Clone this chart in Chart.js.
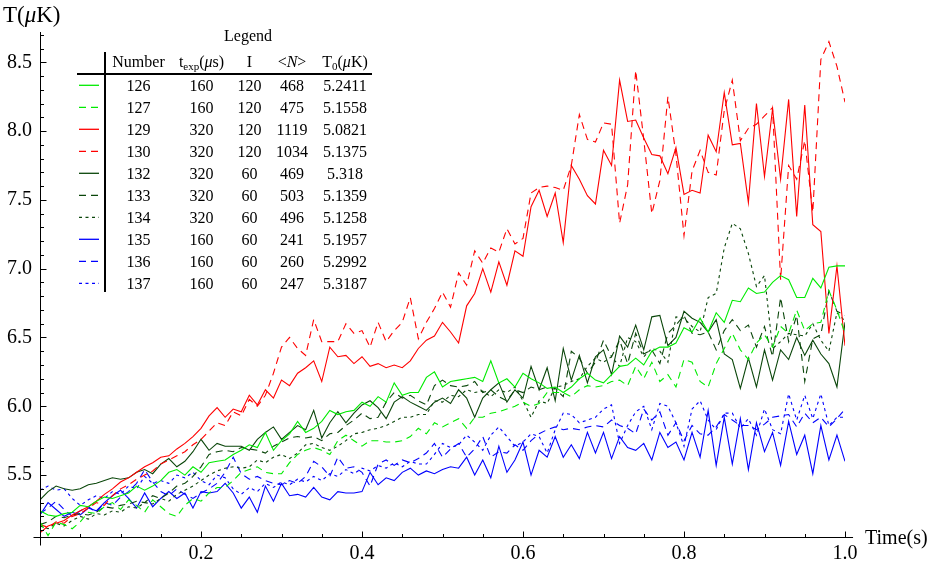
<!DOCTYPE html>
<html>
<head>
<meta charset="utf-8">
<script src="https://cdn.jsdelivr.net/npm/chart.js@4.4.0/dist/chart.umd.min.js"></script>
<style>
  html, body { margin: 0; padding: 0; background: #ffffff; }
  #wrap { width: 932px; height: 565px; }
  canvas { display: block; }
</style>
</head>
<body>
<div id="wrap"><canvas id="chart" width="932" height="565"></canvas></div>
<script>
// Sampling times (s)
const TIMES = [0.00,0.01,0.02,0.03,0.04,0.05,0.06,0.07,0.08,0.09,
  0.10,0.11,0.12,0.13,0.14,0.15,0.16,0.17,0.18,0.19,
  0.20,0.21,0.22,0.23,0.24,0.25,0.26,0.27,0.28,0.29,
  0.30,0.31,0.32,0.33,0.34,0.35,0.36,0.37,0.38,0.39,
  0.40,0.41,0.42,0.43,0.44,0.45,0.46,0.47,0.48,0.49,
  0.50,0.51,0.52,0.53,0.54,0.55,0.56,0.57,0.58,0.59,
  0.60,0.61,0.62,0.63,0.64,0.65,0.66,0.67,0.68,0.69,
  0.70,0.71,0.72,0.73,0.74,0.75,0.76,0.77,0.78,0.79,
  0.80,0.81,0.82,0.83,0.84,0.85,0.86,0.87,0.88,0.89,
  0.90,0.91,0.92,0.93,0.94,0.95,0.96,0.97,0.98,0.99,1.00];

// Temperature T (µK) for each run
const RUN_126 = [5.24,5.21,5.20,5.22,5.23,5.28,5.27,5.31,5.34,5.33,
  5.35,5.37,5.42,5.39,5.42,5.46,5.52,5.54,5.50,5.56,
  5.52,5.59,5.60,5.61,5.65,5.68,5.72,5.70,5.81,5.68,
  5.75,5.80,5.89,5.81,5.84,5.89,5.97,5.94,5.96,5.97,
  6.03,6.00,6.07,6.03,6.17,6.08,6.10,6.10,6.21,6.25,
  6.14,6.18,6.19,6.20,6.21,6.18,6.33,6.17,6.20,6.14,
  6.24,6.20,6.17,6.13,6.14,6.10,6.14,6.20,6.24,6.19,
  6.17,6.23,6.29,6.30,6.35,6.30,6.40,6.43,6.43,6.46,
  6.57,6.54,6.64,6.54,6.68,6.61,6.77,6.76,6.86,6.82,
  6.83,6.90,6.95,6.92,6.79,6.79,6.93,6.86,7.01,7.02,7.02];

const RUN_127 = [5.16,5.06,5.16,5.14,5.11,5.16,5.23,5.22,5.27,5.30,
  5.25,5.32,5.28,5.23,5.32,5.27,5.22,5.20,5.28,5.33,
  5.31,5.37,5.41,5.41,5.46,5.52,5.54,5.56,5.52,5.51,
  5.51,5.59,5.65,5.68,5.70,5.68,5.65,5.75,5.79,5.75,
  5.71,5.75,5.75,5.74,5.74,5.75,5.78,5.84,5.80,5.88,
  5.85,5.88,5.91,5.84,5.92,5.92,5.95,5.96,5.98,6.00,
  6.03,6.00,6.02,6.10,6.10,6.10,6.07,6.12,6.15,6.14,
  6.15,6.18,6.19,6.15,6.29,6.20,6.32,6.18,6.23,6.14,
  6.34,6.32,6.18,6.14,6.31,6.42,6.53,6.41,6.34,6.46,
  6.52,6.43,6.58,6.53,6.70,6.55,6.60,6.61,6.84,6.70,6.53];

const RUN_129 = [5.08,5.13,5.15,5.17,5.21,5.24,5.27,5.31,5.36,5.40,
  5.45,5.48,5.52,5.56,5.59,5.63,5.64,5.69,5.73,5.78,
  5.84,5.93,5.99,5.92,5.98,5.96,6.08,6.01,6.12,6.06,
  6.19,6.15,6.24,6.28,6.33,6.18,6.43,6.36,6.37,6.31,
  6.36,6.29,6.31,6.28,6.30,6.28,6.33,6.42,6.48,6.51,
  6.61,6.54,6.46,6.73,6.82,7.00,6.83,7.05,6.88,7.13,
  7.09,7.45,7.57,7.38,7.55,7.19,7.75,7.65,7.53,7.47,
  7.86,7.75,8.37,8.07,8.08,7.95,7.83,7.82,7.69,7.88,
  7.54,7.57,7.55,7.97,7.85,8.28,7.90,7.91,7.48,8.20,
  7.67,8.16,7.65,8.23,7.38,8.19,7.32,7.27,6.53,7.02,6.44];

const RUN_130 = [5.14,5.12,5.16,5.15,5.20,5.22,5.26,5.30,5.28,5.35,
  5.40,5.43,5.47,5.50,5.53,5.58,5.61,5.64,5.67,5.72,
  5.76,5.82,5.88,5.86,5.96,5.93,6.05,6.00,6.08,6.24,
  6.43,6.50,6.42,6.37,6.63,6.47,6.47,6.47,6.60,6.53,
  6.55,6.43,6.61,6.47,6.55,6.61,6.79,6.49,6.61,6.71,
  6.83,6.72,6.97,6.88,7.13,7.04,7.15,7.12,7.29,7.18,
  7.22,7.55,7.59,7.60,7.59,7.57,7.75,8.12,7.94,7.92,
  8.06,8.05,7.33,7.61,8.44,7.94,7.40,7.64,8.25,7.83,
  7.24,7.71,7.86,7.70,7.68,8.15,8.37,7.93,8.02,8.05,
  8.11,8.17,6.92,7.75,7.65,7.93,7.41,8.52,8.65,8.47,8.21];

const RUN_132 = [5.32,5.38,5.42,5.40,5.39,5.40,5.43,5.44,5.46,5.48,
  5.47,5.48,5.52,5.54,5.51,5.58,5.62,5.56,5.60,5.67,
  5.76,5.68,5.73,5.71,5.71,5.71,5.68,5.76,5.81,5.85,
  5.76,5.81,5.86,5.83,5.97,5.77,5.88,5.96,5.88,5.95,
  6.01,6.04,5.99,5.91,6.03,6.07,6.03,6.00,5.97,6.03,
  6.06,6.02,6.12,6.06,5.92,6.06,6.12,6.17,6.03,6.12,
  6.06,6.29,6.12,6.28,6.04,6.42,6.19,6.37,6.17,6.36,
  6.41,6.23,6.51,6.43,6.59,6.41,6.65,6.66,6.44,6.50,
  6.69,6.64,6.61,6.54,6.63,6.38,6.34,6.13,6.35,6.14,
  6.41,6.19,6.41,6.34,6.50,6.37,6.48,6.38,6.31,6.14,6.61];

const RUN_133 = [5.14,5.16,5.20,5.19,5.21,5.22,5.21,5.23,5.27,5.26,
  5.28,5.29,5.31,5.30,5.35,5.33,5.37,5.42,5.44,5.49,
  5.56,5.65,5.67,5.68,5.67,5.70,5.69,5.68,5.66,5.71,
  5.74,5.77,5.78,5.77,5.78,5.75,5.80,5.81,5.86,5.90,
  5.95,5.91,5.92,6.03,6.10,6.06,6.08,6.04,6.01,6.15,
  6.19,6.15,6.14,6.15,6.18,6.10,6.12,6.07,6.04,6.12,
  6.10,6.14,6.12,6.14,6.13,6.07,6.40,6.35,6.24,6.32,
  6.48,6.36,6.48,6.31,6.53,6.38,6.41,6.31,6.53,6.59,
  6.66,6.53,6.52,6.54,6.41,6.55,6.63,6.55,6.59,6.43,
  6.58,6.36,6.79,6.47,6.66,6.18,6.49,6.52,6.84,6.69,6.66];

const RUN_134 = [5.13,5.11,5.15,5.13,5.17,5.20,5.18,5.22,5.21,5.24,
  5.23,5.27,5.26,5.30,5.29,5.33,5.31,5.36,5.39,5.42,
  5.46,5.50,5.53,5.55,5.56,5.55,5.56,5.61,5.59,5.63,
  5.65,5.62,5.66,5.72,5.73,5.70,5.68,5.71,5.75,5.80,
  5.81,5.83,5.84,5.86,5.89,5.92,5.92,5.94,5.94,6.04,
  6.03,6.08,6.07,6.12,6.10,6.11,6.07,6.12,6.10,6.14,
  6.04,5.92,6.04,6.02,6.14,6.15,6.18,6.20,6.29,6.35,
  6.32,6.36,6.29,6.50,6.47,6.36,6.42,6.40,6.32,6.65,
  6.64,6.58,6.54,6.79,6.82,7.15,7.33,7.29,7.11,6.87,
  6.95,6.42,6.47,6.53,6.52,6.51,6.60,6.48,6.40,6.68,6.62];

const RUN_135 = [5.21,5.30,5.25,5.20,5.23,5.21,5.26,5.24,5.30,5.35,
  5.39,5.33,5.26,5.37,5.27,5.33,5.38,5.33,5.37,5.26,
  5.38,5.37,5.38,5.44,5.37,5.26,5.34,5.23,5.42,5.31,
  5.44,5.35,5.36,5.34,5.41,5.34,5.32,5.38,5.37,5.37,
  5.38,5.52,5.43,5.48,5.46,5.52,5.55,5.50,5.53,5.51,
  5.54,5.56,5.55,5.63,5.50,5.61,5.48,5.71,5.52,5.61,
  5.74,5.50,5.68,5.63,5.78,5.63,5.72,5.62,5.81,5.66,
  5.81,5.62,5.78,5.70,5.68,5.73,5.61,5.81,5.70,5.74,
  5.61,5.81,5.63,5.97,5.57,5.92,5.58,5.91,5.54,5.88,
  5.67,5.81,5.57,5.89,5.65,5.79,5.51,5.86,5.61,5.79,5.60];

const RUN_136 = [5.22,5.26,5.31,5.25,5.20,5.24,5.27,5.23,5.30,5.28,
  5.34,5.38,5.44,5.54,5.45,5.38,5.35,5.40,5.36,5.33,
  5.37,5.40,5.44,5.52,5.63,5.51,5.47,5.49,5.46,5.44,
  5.43,5.46,5.44,5.49,5.60,5.56,5.49,5.63,5.55,5.56,
  5.52,5.42,5.58,5.61,5.57,5.61,5.59,5.62,5.66,5.73,
  5.63,5.69,5.73,5.63,5.69,5.78,5.63,5.67,5.66,5.72,
  5.68,5.75,5.80,5.83,5.85,5.83,5.84,5.83,5.85,5.86,
  5.85,5.90,5.86,5.84,5.80,5.98,5.90,5.96,5.79,5.88,
  5.75,5.86,5.80,5.79,5.85,5.94,5.90,5.86,5.86,5.83,
  5.87,5.92,5.93,5.94,5.85,5.95,5.88,5.92,5.85,5.91,5.98];

const RUN_137 = [5.39,5.42,5.39,5.40,5.33,5.28,5.32,5.35,5.33,5.38,
  5.36,5.42,5.40,5.49,5.44,5.46,5.44,5.50,5.48,5.52,
  5.46,5.43,5.50,5.48,5.40,5.36,5.41,5.38,5.44,5.41,
  5.45,5.43,5.47,5.45,5.49,5.46,5.51,5.49,5.54,5.51,
  5.55,5.53,5.57,5.55,5.59,5.56,5.60,5.58,5.58,5.65,
  5.73,5.70,5.72,5.79,5.74,5.68,5.79,5.85,5.78,5.71,
  5.74,5.80,5.78,5.66,5.83,5.95,5.94,5.88,5.90,5.92,
  5.98,6.01,5.73,5.86,5.96,6.00,5.83,6.02,6.00,5.88,
  5.71,5.98,6.04,5.90,5.83,5.95,5.95,5.84,5.91,5.79,
  5.98,5.83,5.80,6.09,5.90,6.08,5.91,6.09,5.86,5.92,5.92];

// Legend table columns
const RUN_NUMBER = ['126','127','129','130','132','133','134','135','136','137'];
const RUN_TEXP   = ['160','160','320','320','320','320','320','160','160','160'];
const RUN_I      = ['120','120','120','120','60','60','60','60','60','60'];
const RUN_N      = ['468','475','1119','1034','469','503','496','241','260','247'];
const RUN_T0     = ['5.2411','5.1558','5.0821','5.1375','5.318','5.1359','5.1258','5.1957','5.2992','5.3187'];

// Axis ticks
const X_TICKS = [0.2, 0.4, 0.6, 0.8, 1.0];
const Y_TICKS = [5.5, 6.0, 6.5, 7.0, 7.5, 8.0, 8.5];
const Y_MIN = 5.05, Y_MAX = 8.72;

// Line styles
const GREEN = 'rgb(0,235,0)';
const RED = 'rgb(255,0,0)';
const DKGREEN = 'rgb(10,70,10)';
const BLUE = 'rgb(0,0,255)';
const SOLID = [];
const DASHED = [7, 5];
const DOTTED = [3, 3.5];

const SERIES = [
  { data: RUN_126, color: GREEN,   dash: SOLID },
  { data: RUN_127, color: GREEN,   dash: DASHED },
  { data: RUN_129, color: RED,     dash: SOLID },
  { data: RUN_130, color: RED,     dash: DASHED },
  { data: RUN_132, color: DKGREEN, dash: SOLID },
  { data: RUN_133, color: DKGREEN, dash: DASHED },
  { data: RUN_134, color: DKGREEN, dash: DOTTED },
  { data: RUN_135, color: BLUE,    dash: SOLID },
  { data: RUN_136, color: BLUE,    dash: DASHED },
  { data: RUN_137, color: BLUE,    dash: DOTTED }
];

const SERIF = '"Liberation Serif", "Times New Roman", serif';

// Draws a row of text pieces (plain, italic, subscript) centred on cx
function drawRuns(ctx, runs, cx, baseline) {
  let w = 0;
  runs.forEach(r => { ctx.font = r.font; r.w = ctx.measureText(r.t).width; w += r.w; });
  let xx = cx - w / 2;
  runs.forEach(r => { ctx.font = r.font; ctx.fillText(r.t, xx, baseline + (r.dy || 0)); xx += r.w; });
}

const framePlugin = {
  id: 'frame',
  afterDraw(chart) {
    const { ctx, chartArea, scales: { x, y } } = chart;
    const x0 = Math.round(x.getPixelForValue(0)) + 0.5;
    const yb = Math.round(y.getPixelForValue(Y_MIN)) + 0.5;
    ctx.save();
    ctx.strokeStyle = '#000';
    ctx.fillStyle = '#000';
    ctx.lineWidth = 1;
    ctx.setLineDash([]);

    // axis lines
    ctx.beginPath();
    ctx.moveTo(x0, chartArea.top);
    ctx.lineTo(x0, yb + 8);
    ctx.moveTo(x0 - 7, yb);
    ctx.lineTo(x.getPixelForValue(1.01), yb);
    ctx.stroke();

    // y ticks every 0.1, longer at each labelled value
    ctx.beginPath();
    for (let k = 51; k <= 87; k++) {
      const py = Math.round(y.getPixelForValue(k / 10)) + 0.5;
      const len = (k % 5 === 0) ? 6 : 3.5;
      ctx.moveTo(x0, py);
      ctx.lineTo(x0 + len, py);
    }
    // x ticks every 0.05, longer at each labelled value
    for (let k = 1; k <= 20; k++) {
      const px = Math.round(x.getPixelForValue(k * 0.05)) + 0.5;
      const len = (k % 4 === 0) ? 6 : 3.5;
      ctx.moveTo(px, yb);
      ctx.lineTo(px, yb - len);
    }
    ctx.stroke();

    // axis titles
    ctx.textAlign = 'left';
    ctx.textBaseline = 'alphabetic';
    const f20 = '20px ' + SERIF;
    const f23 = '23px ' + SERIF, f23i = 'italic 23px ' + SERIF;
    let tx = 3;
    [['T(', f23], ['\u03bc', f23i], ['K)', f23]].forEach(([t, f]) => {
      ctx.font = f; ctx.fillText(t, tx, 22); tx += ctx.measureText(t).width;
    });
    ctx.font = f20;
    ctx.fillText('Time(s)', 865, 544);

    // legend table
    const f16 = '16px ' + SERIF, f16i = 'italic 16px ' + SERIF, f11 = '11px ' + SERIF;
    const cols = [138.5, 201.5, 249.5, 292, 345];
    drawRuns(ctx, [{ t: 'Legend', font: f16 }], 248, 41);
    const hb = 67;
    drawRuns(ctx, [{ t: 'Number', font: f16 }], cols[0], hb);
    drawRuns(ctx, [{ t: 't', font: f16 }, { t: 'exp', font: f11, dy: 3 }, { t: '(', font: f16 },
                   { t: '\u03bc', font: f16i }, { t: 's)', font: f16 }], cols[1], hb);
    drawRuns(ctx, [{ t: 'I', font: f16 }], cols[2], hb);
    drawRuns(ctx, [{ t: '<', font: f16 }, { t: 'N', font: f16i }, { t: '>', font: f16 }], cols[3], hb);
    drawRuns(ctx, [{ t: 'T', font: f16 }, { t: '0', font: f11, dy: 3 }, { t: '(', font: f16 },
                   { t: '\u03bc', font: f16i }, { t: 'K)', font: f16 }], cols[4], hb);

    ctx.lineWidth = 2;
    ctx.beginPath();
    ctx.moveTo(105, 52); ctx.lineTo(105, 292);
    ctx.moveTo(77, 74); ctx.lineTo(372, 74);
    ctx.stroke();

    for (let i = 0; i < RUN_NUMBER.length; i++) {
      const cy = 85.3 + 22 * i;
      const s = SERIES[i];
      ctx.strokeStyle = s.color;
      ctx.lineWidth = 1.3;
      ctx.setLineDash(s.dash);
      ctx.beginPath();
      ctx.moveTo(79, cy); ctx.lineTo(99, cy);
      ctx.stroke();
      ctx.setLineDash([]);
      const bl = cy + 5.5;
      drawRuns(ctx, [{ t: RUN_NUMBER[i], font: f16 }], cols[0], bl);
      drawRuns(ctx, [{ t: RUN_TEXP[i], font: f16 }], cols[1], bl);
      drawRuns(ctx, [{ t: RUN_I[i], font: f16 }], cols[2], bl);
      drawRuns(ctx, [{ t: RUN_N[i], font: f16 }], cols[3], bl);
      drawRuns(ctx, [{ t: RUN_T0[i], font: f16 }], cols[4], bl);
    }
    ctx.restore();
  }
};

new Chart(document.getElementById('chart'), {
  type: 'line',
  data: {
    labels: TIMES,
    datasets: SERIES.map(s => ({
      data: s.data,
      borderColor: s.color,
      borderDash: s.dash,
      borderWidth: 1.1,
      pointRadius: 0,
      fill: false,
      tension: 0
    }))
  },
  options: {
    responsive: false,
    animation: false,
    devicePixelRatio: 1,
    layout: { padding: { left: 0, right: 87, top: 32, bottom: 0 } },
    plugins: { legend: { display: false }, tooltip: { enabled: false } },
    scales: {
      x: {
        type: 'linear',
        min: 0, max: 1.0,
        grid: { display: false, drawTicks: false },
        border: { display: false },
        afterBuildTicks: s => { s.ticks = X_TICKS.map(v => ({ value: v })); },
        afterFit: s => { s.height = 28; },
        ticks: {
          autoSkip: false, maxRotation: 0, padding: 5,
          color: '#000', font: { family: SERIF, size: 20 },
          callback: v => Number(v).toFixed(1)
        }
      },
      y: {
        type: 'linear',
        min: Y_MIN, max: Y_MAX,
        grid: { display: false, drawTicks: false },
        border: { display: false },
        afterBuildTicks: s => { s.ticks = Y_TICKS.map(v => ({ value: v })); },
        afterFit: s => { s.width = 40; },
        ticks: {
          autoSkip: false, padding: 8,
          color: '#000', font: { family: SERIF, size: 20 },
          callback: v => Number(v).toFixed(1)
        }
      }
    }
  },
  plugins: [framePlugin]
});
</script>
</body>
</html>
